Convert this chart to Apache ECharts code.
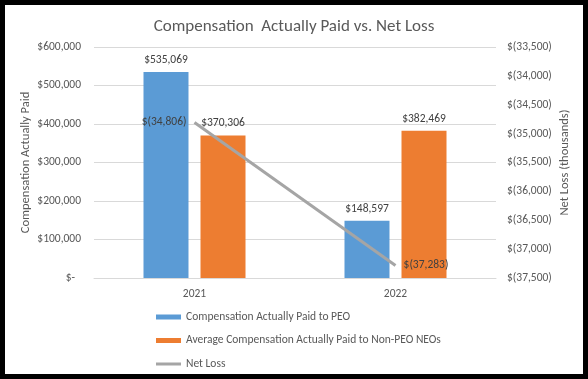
<!DOCTYPE html>
<html><head><meta charset="utf-8">
<script src="https://cdn.jsdelivr.net/npm/echarts@6/dist/echarts.min.js"></script>
<style>html,body{margin:0;padding:0;background:#fff}#c{width:588px;height:379px}</style>
</head><body><div id="c"></div>
<script>
var categories = ['2021', '2022'];
var peoPaid = [535069, 148597];
var nonPeoPaid = [370306, 382469];
var netLoss = [-34806, -37283];
var seriesNames = ['Compensation Actually Paid to PEO', 'Average Compensation Actually Paid to Non-PEO NEOs', 'Net Loss'];

var FONT = "Carlito, 'Liberation Sans Narrow', sans-serif";
var TXT = '#595959';
function money(v){ return '$' + Math.round(v).toLocaleString('en-US'); }
function neg(v){ return '$(' + Math.abs(Math.round(v)).toLocaleString('en-US') + ')'; }

var chart = echarts.init(document.getElementById('c'));
chart.setOption({
  animation: false,
  textStyle: { fontFamily: FONT },
  title: { text: 'Compensation  Actually Paid vs. Net Loss', left: 'center', top: 13,
    textStyle: { fontFamily: FONT, fontSize: 17, fontWeight: 'normal', color: TXT } },
  graphic: [
    { type: 'rect', shape: { x: 2.5, y: 2.5, width: 583, height: 374 }, style: { fill: 'none', stroke: '#000', lineWidth: 5 }, z: 100 }
  ],
  grid: { left: 94, right: 92, top: 47, bottom: 101 },
  legend: {
    orient: 'vertical', left: 156, top: 311, padding: 0, itemWidth: 25, itemHeight: 5, itemGap: 11.5,
    textStyle: { fontFamily: FONT, fontSize: 11.5, color: TXT },
    data: [
      { name: seriesNames[0], icon: 'rect' },
      { name: seriesNames[1], icon: 'rect' },
      { name: seriesNames[2], icon: 'path://M0,0 L25,0 L25,3 L0,3 Z' }
    ]
  },
  xAxis: {
    type: 'category', data: categories,
    axisLine: { lineStyle: { color: '#D9D9D9' } }, axisTick: { show: false },
    axisLabel: { color: TXT, fontSize: 11.5, margin: 10 }
  },
  yAxis: [
    { type: 'value', min: 0, max: 600000, interval: 100000,
      name: 'Compensation Actually Paid', nameLocation: 'middle', nameGap: 62, nameRotate: 90, nameMoveOverlap: false,
      nameTextStyle: { color: TXT, fontSize: 12.5 },
      axisLine: { show: false }, axisTick: { show: false },
      splitLine: { lineStyle: { color: '#D9D9D9' } },
      axisLabel: { color: TXT, fontSize: 11.5, margin: 13,
        formatter: function(v){ return v === 0 ? '{z|$-}' : money(v); },
        rich: { z: { padding: [0, 6, 0, 0], color: TXT, fontSize: 11.5 } } } },
    { type: 'value', min: -37500, max: -33500, interval: 500,
      name: 'Net Loss (thousands)', nameLocation: 'middle', nameGap: 62, nameRotate: 90, nameMoveOverlap: false,
      nameTextStyle: { color: TXT, fontSize: 12.5 },
      axisLine: { show: false }, axisTick: { show: false }, splitLine: { show: false },
      axisLabel: { color: TXT, fontSize: 11.5, margin: 11, formatter: neg } }
  ],
  series: [
    { name: seriesNames[0], type: 'bar', data: peoPaid, barWidth: 45, barGap: '26.7%',
      itemStyle: { color: '#5B9BD5' },
      label: { show: true, position: 'top', distance: 6, color: '#404040', fontSize: 11.5, formatter: function(p){ return money(p.value); } } },
    { name: seriesNames[1], type: 'bar', data: nonPeoPaid, barWidth: 45,
      itemStyle: { color: '#ED7D31' },
      label: { show: true, position: 'top', distance: 6, color: '#404040', fontSize: 11.5, formatter: function(p){ return money(p.value); } } },
    { name: seriesNames[2], type: 'line', yAxisIndex: 1, symbol: 'circle', symbolSize: 0.1, showSymbol: true,
      lineStyle: { color: '#A5A5A5', width: 3 }, itemStyle: { color: '#A5A5A5' },
      label: { show: true },
      data: netLoss.map(function(v, i){ return { value: v, label: { show: true, position: i === 0 ? 'left' : 'right', distance: 8, color: '#404040', fontSize: 11.5, formatter: function(p){ return neg(p.value); } } }; }) }
  ]
});
</script></body></html>
